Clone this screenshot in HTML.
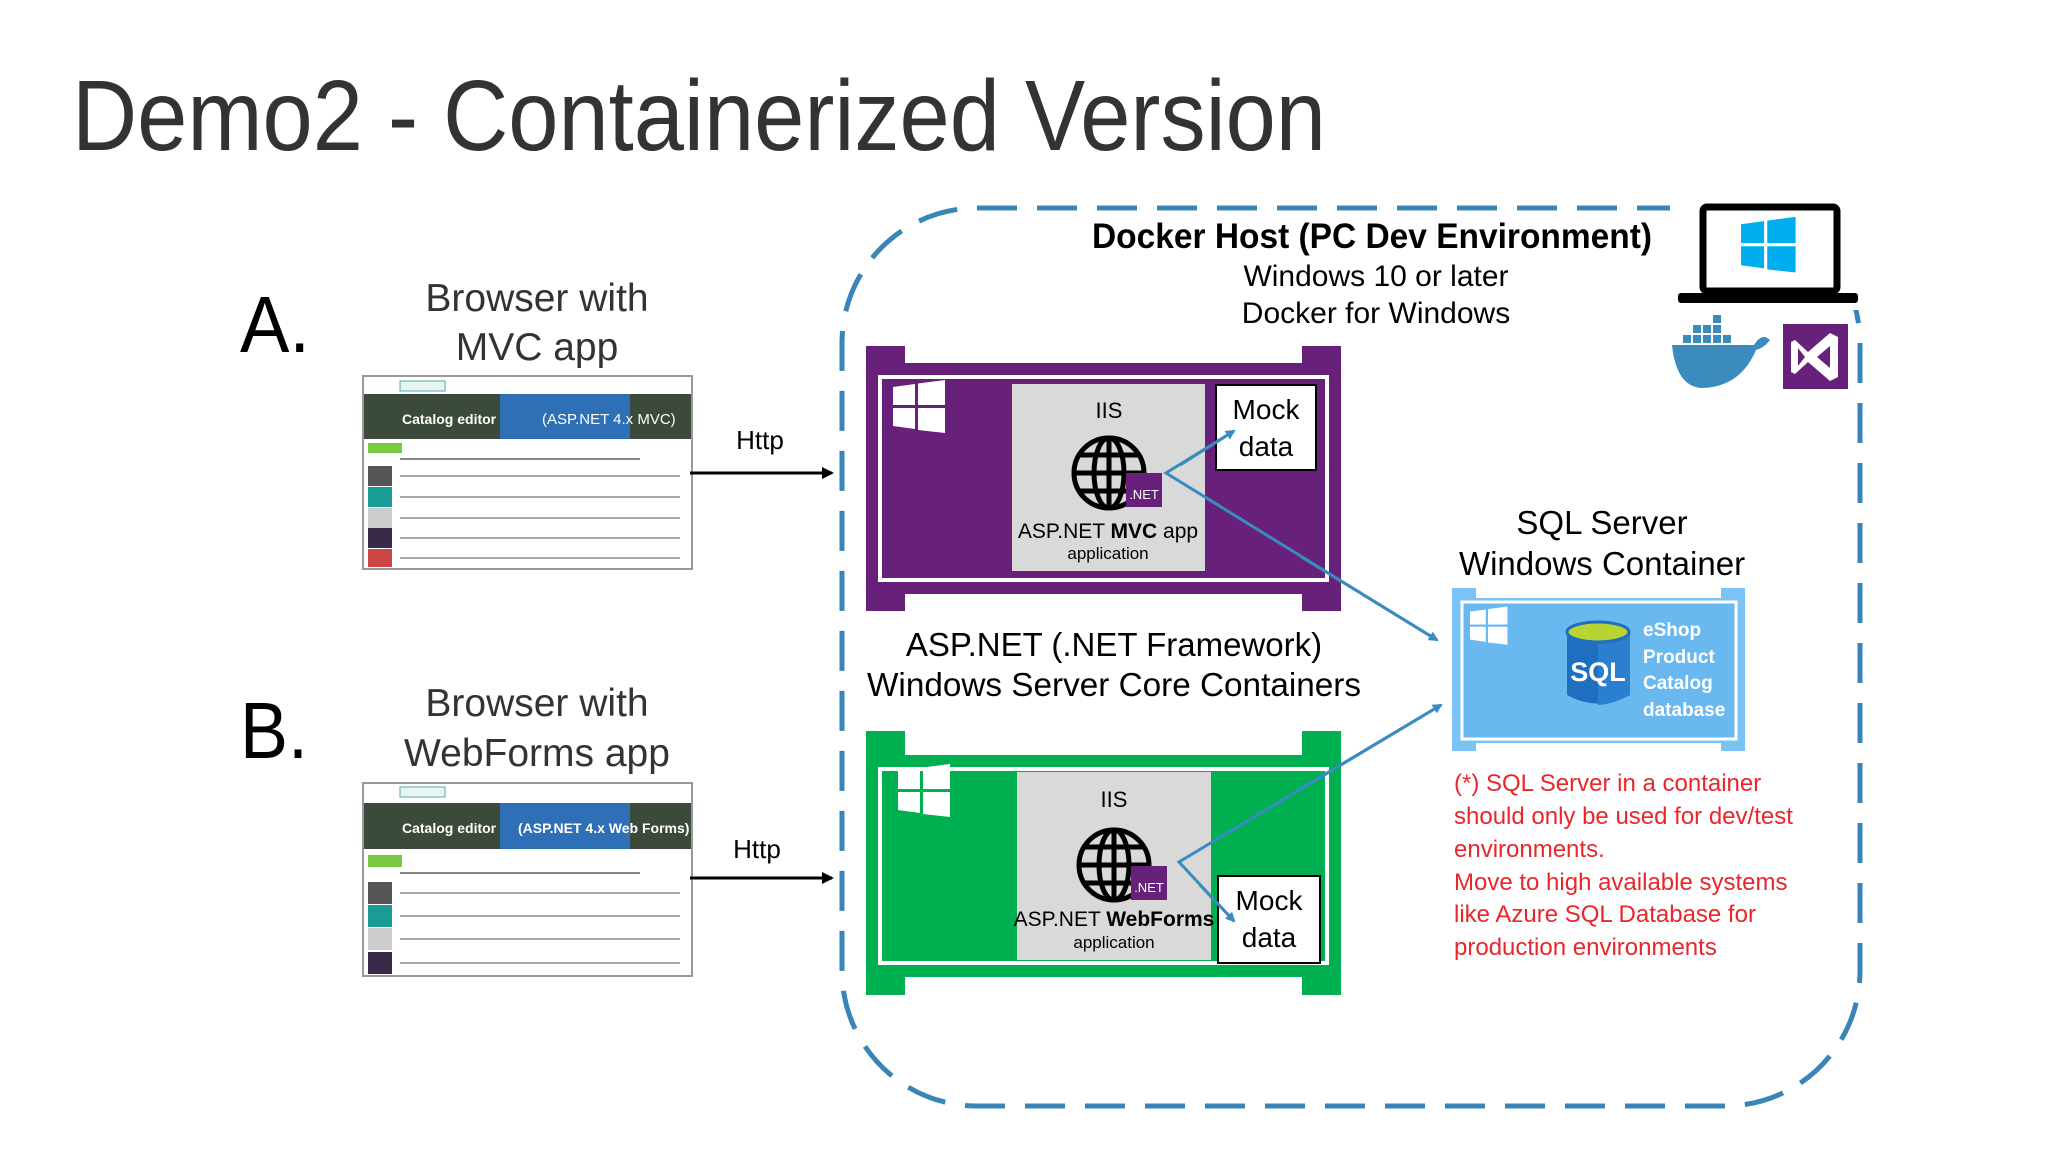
<!DOCTYPE html>
<html><head><meta charset="utf-8"><style>
html,body{margin:0;padding:0;background:#fff;}
svg{display:block;font-family:"Liberation Sans",sans-serif;}
</style></head><body>
<svg width="2048" height="1152" viewBox="0 0 2048 1152" xmlns="http://www.w3.org/2000/svg">
<defs>
<marker id="ab" markerWidth="10" markerHeight="10" refX="8" refY="5" orient="auto" markerUnits="userSpaceOnUse"><path d="M0,0 L10,5 L0,10 z" fill="#3a8cc0"/></marker>
<marker id="ak" markerWidth="12" markerHeight="12" refX="10" refY="6" orient="auto" markerUnits="userSpaceOnUse"><path d="M0,0 L12,6 L0,12 z" fill="#000"/></marker>
<g id="win"><path d="M0,5 L22,2 L22,23 L0,23 z M25,1.5 L52,-2 L52,23 L25,23 z M0,26 L22,26 L22,47 L0,44 z M25,26 L52,26 L52,51 L25,48 z"/></g>
</defs>
<rect width="2048" height="1152" fill="#fff"/>
<text x="72" y="150" font-size="100" fill="#333" textLength="1254" lengthAdjust="spacingAndGlyphs">Demo2 - Containerized Version</text>

<!-- dashed host -->
<rect x="842" y="208" width="1018" height="898" rx="135" fill="none" stroke="#3a85b8" stroke-width="5" stroke-dasharray="40 20"/>
<rect x="1670" y="200" width="200" height="110" fill="#fff"/>
<text x="1372" y="248" font-size="35" font-weight="bold" text-anchor="middle" textLength="560" lengthAdjust="spacingAndGlyphs">Docker Host (PC Dev Environment)</text>
<text x="1376" y="286" font-size="30" text-anchor="middle">Windows 10 or later</text>
<text x="1376" y="323" font-size="30" text-anchor="middle">Docker for Windows</text>

<!-- laptop -->
<rect x="1703" y="207" width="134" height="84" rx="4" fill="#fff" stroke="#000" stroke-width="7"/>
<rect x="1678" y="293" width="180" height="10" rx="3" fill="#000"/>
<g fill="#00adef" transform="translate(1741,219) scale(1.05)"><use href="#win"/></g>
<!-- docker whale -->
<g fill="#3b8bbd">
<path d="M1672,345 L1754,345 Q1762,332 1770,340 Q1764,348 1756,350 Q1740,388 1700,388 Q1676,385 1672,345 z"/>
<rect x="1683" y="335" width="8" height="8"/><rect x="1693" y="335" width="8" height="8"/><rect x="1703" y="335" width="8" height="8"/><rect x="1713" y="335" width="8" height="8"/><rect x="1723" y="335" width="8" height="8"/>
<rect x="1693" y="325" width="8" height="8"/><rect x="1703" y="325" width="8" height="8"/><rect x="1713" y="325" width="8" height="8"/><rect x="1713" y="315" width="8" height="8"/>
</g>
<!-- VS -->
<rect x="1783" y="324" width="65" height="65" fill="#68217a"/>
<path d="M1795,340 L1808,352 L1830,333 L1838,337 L1838,377 L1830,381 L1808,362 L1795,374 L1791,372 L1791,342 z M1798,348 L1798,366 L1805,357 z M1830,346 L1830,368 L1817,357 z" fill="#fff" fill-rule="evenodd"/>

<!-- A / B labels -->
<text x="240" y="352" font-size="80" textLength="70" lengthAdjust="spacingAndGlyphs">A.</text>
<text x="240" y="758" font-size="80" textLength="68" lengthAdjust="spacingAndGlyphs">B.</text>
<g font-size="39" fill="#333" text-anchor="middle">
<text x="537" y="311">Browser with</text><text x="537" y="360">MVC app</text>
<text x="537" y="716">Browser with</text><text x="537" y="766">WebForms app</text>
</g>

<!-- screenshot A -->
<g>
<rect x="363" y="376" width="329" height="193" fill="#fff" stroke="#999" stroke-width="2"/>
<rect x="400" y="381" width="45" height="10" fill="#e8f4f0" stroke="#5aa" stroke-width="1"/>
<rect x="364" y="394" width="327" height="45" fill="#3b4a3a"/>
<rect x="500" y="394" width="130" height="45" fill="#2f6fb5"/>
<text x="402" y="424" font-size="14" font-weight="bold" fill="#fff">Catalog editor</text>
<text x="542" y="424" font-size="15" fill="#fff">(ASP.NET 4.x MVC)</text>
<rect x="368" y="443" width="34" height="10" fill="#7ac943"/>
<g fill="#555"><rect x="368" y="466" width="24" height="20"/><rect x="368" y="487" width="24" height="20" fill="#1a9c96"/><rect x="368" y="508" width="24" height="20" fill="#ccc"/><rect x="368" y="528" width="24" height="20" fill="#3a2a4a"/><rect x="368" y="549" width="24" height="18" fill="#c44"/></g>
<g stroke="#aaa" stroke-width="2"><line x1="400" y1="476" x2="680" y2="476"/><line x1="400" y1="497" x2="680" y2="497"/><line x1="400" y1="518" x2="680" y2="518"/><line x1="400" y1="538" x2="680" y2="538"/><line x1="400" y1="558" x2="680" y2="558"/><line x1="400" y1="459" x2="640" y2="459" stroke="#888"/></g>
</g>
<!-- screenshot B -->
<g>
<rect x="363" y="783" width="329" height="193" fill="#fff" stroke="#999" stroke-width="2"/>
<rect x="400" y="787" width="45" height="10" fill="#e8f4f0" stroke="#5aa" stroke-width="1"/>
<rect x="364" y="803" width="327" height="46" fill="#3b4a3a"/>
<rect x="500" y="803" width="130" height="46" fill="#2f6fb5"/>
<text x="402" y="833" font-size="14" font-weight="bold" fill="#fff">Catalog editor</text>
<text x="518" y="833" font-size="14" font-weight="bold" fill="#fff">(ASP.NET 4.x Web Forms)</text>
<rect x="368" y="855" width="34" height="12" fill="#7ac943"/>
<g><rect x="368" y="882" width="24" height="22" fill="#555"/><rect x="368" y="905" width="24" height="22" fill="#1a9c96"/><rect x="368" y="928" width="24" height="22" fill="#ccc"/><rect x="368" y="952" width="24" height="22" fill="#3a2a4a"/></g>
<g stroke="#aaa" stroke-width="2"><line x1="400" y1="893" x2="680" y2="893"/><line x1="400" y1="916" x2="680" y2="916"/><line x1="400" y1="939" x2="680" y2="939"/><line x1="400" y1="963" x2="680" y2="963"/><line x1="400" y1="873" x2="640" y2="873" stroke="#888"/></g>
</g>

<!-- Http arrows -->
<line x1="690" y1="473" x2="832" y2="473" stroke="#000" stroke-width="3" marker-end="url(#ak)"/>
<line x1="690" y1="878" x2="832" y2="878" stroke="#000" stroke-width="3" marker-end="url(#ak)"/>
<text x="760" y="449" font-size="26" text-anchor="middle">Http</text>
<text x="757" y="858" font-size="26" text-anchor="middle">Http</text>

<!-- purple container -->
<g fill="#68217a">
<rect x="866" y="363" width="475" height="231"/>
<rect x="866" y="346" width="39" height="265"/><rect x="1302" y="346" width="39" height="265"/>
</g>
<rect x="880" y="377" width="447" height="203" fill="none" stroke="#fff" stroke-width="4"/>
<g fill="#fff" transform="translate(893,382)"><use href="#win"/></g>
<rect x="1012" y="384" width="193" height="187" fill="#d9d9d9"/>
<rect x="1216" y="385" width="100" height="85" fill="#fff" stroke="#000" stroke-width="2"/>
<text x="1266" y="419" font-size="28" text-anchor="middle">Mock</text>
<text x="1266" y="456" font-size="28" text-anchor="middle">data</text>
<text x="1109" y="418" font-size="22" text-anchor="middle">IIS</text>
<g fill="none" stroke="#000" stroke-width="5"><circle cx="1109" cy="473" r="35"/><ellipse cx="1109" cy="473" rx="15" ry="35"/><line x1="1074" y1="473" x2="1144" y2="473"/><line x1="1109" y1="438" x2="1109" y2="508"/><line x1="1080" y1="455" x2="1138" y2="455"/><line x1="1080" y1="491" x2="1138" y2="491"/></g>
<rect x="1126" y="473" width="36" height="34" fill="#68217a"/><text x="1144" y="499" font-size="13" fill="#fff" text-anchor="middle">.NET</text>
<text x="1108" y="538" font-size="21" text-anchor="middle">ASP.NET <tspan font-weight="bold">MVC</tspan> app</text>
<text x="1108" y="559" font-size="17" text-anchor="middle">application</text>

<!-- middle text -->
<text x="1114" y="656" font-size="33" text-anchor="middle">ASP.NET (.NET Framework)</text>
<text x="1114" y="696" font-size="33" text-anchor="middle" textLength="494" lengthAdjust="spacingAndGlyphs">Windows Server Core Containers</text>

<!-- green container -->
<g fill="#00b050">
<rect x="866" y="755" width="475" height="222"/>
<rect x="866" y="731" width="39" height="264"/><rect x="1302" y="731" width="39" height="264"/>
</g>
<rect x="880" y="769" width="447" height="194" fill="none" stroke="#fff" stroke-width="4"/>
<g fill="#fff" transform="translate(898,766)"><use href="#win"/></g>
<rect x="1017" y="772" width="194" height="188" fill="#d9d9d9"/>
<rect x="1218" y="876" width="102" height="87" fill="#fff" stroke="#000" stroke-width="2"/>
<text x="1269" y="910" font-size="28" text-anchor="middle">Mock</text>
<text x="1269" y="947" font-size="28" text-anchor="middle">data</text>
<text x="1114" y="807" font-size="22" text-anchor="middle">IIS</text>
<g fill="none" stroke="#000" stroke-width="5"><circle cx="1114" cy="865" r="35"/><ellipse cx="1114" cy="865" rx="15" ry="35"/><line x1="1079" y1="865" x2="1149" y2="865"/><line x1="1114" y1="830" x2="1114" y2="900"/><line x1="1085" y1="847" x2="1143" y2="847"/><line x1="1085" y1="883" x2="1143" y2="883"/></g>
<rect x="1131" y="866" width="36" height="34" fill="#68217a"/><text x="1149" y="892" font-size="13" fill="#fff" text-anchor="middle">.NET</text>
<text x="1114" y="926" font-size="21" text-anchor="middle">ASP.NET <tspan font-weight="bold">WebForms</tspan></text>
<text x="1114" y="948" font-size="17" text-anchor="middle">application</text>

<!-- SQL -->
<text x="1602" y="534" font-size="33" text-anchor="middle">SQL Server</text>
<text x="1602" y="575" font-size="33" text-anchor="middle">Windows Container</text>
<g fill="#7cc3f5">
<rect x="1452" y="598" width="293" height="145"/>
<rect x="1452" y="588" width="24" height="163"/><rect x="1721" y="588" width="24" height="163"/>
</g>
<rect x="1462" y="602" width="274" height="137" fill="#6ab8f0" stroke="#fff" stroke-width="3"/>
<g fill="#fff" transform="translate(1470,608) scale(0.72)"><use href="#win"/></g>
<path d="M1567,632 L1567,695 Q1598,712 1630,695 L1630,632 z" fill="#1e6fbf"/>
<path d="M1598,632 L1630,632 L1630,695 Q1614,704 1598,705 z" fill="#2b7fd0"/>
<ellipse cx="1598" cy="632" rx="31" ry="10" fill="#b8d432" stroke="#1e6fbf" stroke-width="3"/>
<text x="1598" y="681" font-size="27" font-weight="bold" fill="#fff" text-anchor="middle">SQL</text>
<g font-size="19" font-weight="bold" fill="#fff"><text x="1643" y="636">eShop</text><text x="1643" y="663">Product</text><text x="1643" y="689">Catalog</text><text x="1643" y="716">database</text></g>

<!-- red note -->
<g font-size="24" fill="#e8262b">
<text x="1454" y="791">(*) SQL Server  in a container</text>
<text x="1454" y="824">should only be used for dev/test</text>
<text x="1454" y="857">environments.</text>
<text x="1454" y="890">Move to high available systems</text>
<text x="1454" y="922">like Azure SQL Database for</text>
<text x="1454" y="955">production environments</text>
</g>

<!-- blue connectors -->
<g stroke="#3a8cc0" stroke-width="3" fill="none">
<polyline points="1234,431 1166,473 1437,640" />
<polyline points="1441,705 1179,862 1234,921" />
</g>
<line x1="1180" y1="465" x2="1234" y2="431" stroke="#3a8cc0" stroke-width="3" marker-end="url(#ab)"/>
<line x1="1300" y1="556" x2="1437" y2="640" stroke="#3a8cc0" stroke-width="3" marker-end="url(#ab)"/>
<line x1="1300" y1="789" x2="1441" y2="705" stroke="#3a8cc0" stroke-width="3" marker-end="url(#ab)"/>
<line x1="1200" y1="885" x2="1234" y2="921" stroke="#3a8cc0" stroke-width="3" marker-end="url(#ab)"/>
</svg>
</body></html>
